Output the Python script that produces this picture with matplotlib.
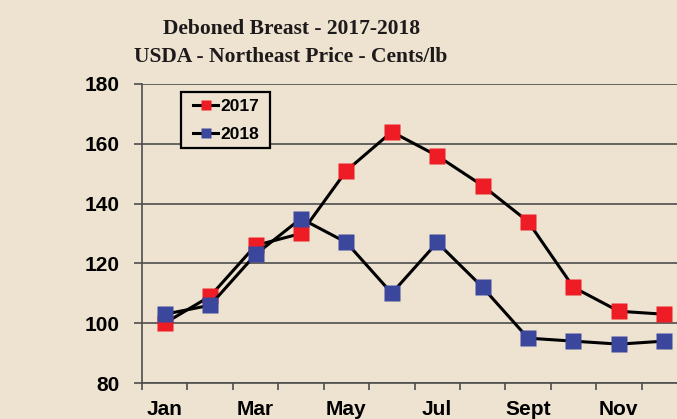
import numpy as np
import matplotlib.pyplot as plt
from matplotlib.patches import Rectangle

months = ["Jan", "Feb", "Mar", "Apr", "May", "Jun",
          "Jul", "Aug", "Sept", "Oct", "Nov", "Dec"]
price_2017 = [100, 109, 126, 130, 151, 164, 156, 146, 134, 112, 104, 103]
price_2018 = [103, 106, 123, 135, 127, 110, 127, 112, 95, 94, 93, 94]

bg = "#ede3d0"
grid_col = "#4d4d4d"

fig = plt.figure(figsize=(6.77, 4.19), dpi=100, facecolor=bg)
# plot area runs a little past the right edge of the picture, as in the original
ax = fig.add_axes([142/677, 1-383/419, 545/677, 299/419])
ax.set_facecolor(bg)

x = np.arange(1, len(months)+1)
ax.plot(x, price_2017, "-s", color="black", lw=2.2, ms=11.5,
        mfc="#ee1c25", mec="none", label="2017", zorder=3)
ax.plot(x, price_2018, "-s", color="black", lw=2.2, ms=11.5,
        mfc="#3b479d", mec="none", label="2018", zorder=4)

ax.set_xlim(0.5, 12.5)
ax.set_ylim(80, 180)
ax.set_yticks(np.arange(80, 181, 20))
ax.yaxis.grid(True, color=grid_col, lw=1.2)
ax.set_axisbelow(True)

# month labels at centres (every other one), tick marks at boundaries
ax.set_xticks(x[::2])
ax.set_xticklabels(months[::2])
ax.set_xticks(np.arange(0.5, 12.6, 1), minor=True)
ax.tick_params(axis="x", which="major", length=0, pad=12)
ax.tick_params(axis="x", which="minor", length=5, width=1.2, color=grid_col)
ax.tick_params(axis="y", length=6, width=1.2, color=grid_col, pad=10)
for lab in ax.get_xticklabels() + ax.get_yticklabels():
    lab.set_fontfamily("Liberation Sans")
    lab.set_fontweight("bold")
    lab.set_fontsize(15)

for s in ["top", "right"]:
    ax.spines[s].set_visible(False)
ax.spines["left"].set_color(grid_col)
ax.spines["left"].set_linewidth(1.2)
ax.spines["bottom"].set_color(grid_col)
ax.spines["bottom"].set_linewidth(1.2)

# legend entries without frame, box drawn separately (wider side padding)
leg = ax.legend(loc="upper left", bbox_to_anchor=(193/677, 1-99/419),
                bbox_transform=fig.transFigure, frameon=False,
                prop={"family": "Liberation Sans", "weight": "bold", "size": 12.5},
                handlelength=1.45, handletextpad=0.1, labelspacing=0.72,
                borderpad=0, markerscale=0.65, borderaxespad=0)
leg.set_zorder(6)
box = Rectangle((181/677, 1-148/419), 89/677, 56/419, transform=fig.transFigure,
                facecolor=bg, edgecolor="black", lw=1.6, zorder=5)
ax.add_artist(box)
box.set_clip_on(False)

fig.text(0.43, 1-34/419, "Deboned Breast - 2017-2018", ha="center",
         va="baseline", fontsize=15.5, fontweight="bold", family="Liberation Serif",
         color="#1e1a1b")
fig.text(0.43, 1-62/419, "USDA - Northeast Price - Cents/lb", ha="center",
         va="baseline", fontsize=15.5, fontweight="bold", family="Liberation Serif",
         color="#1e1a1b")

fig.savefig("out.png", dpi=100, facecolor=bg)
